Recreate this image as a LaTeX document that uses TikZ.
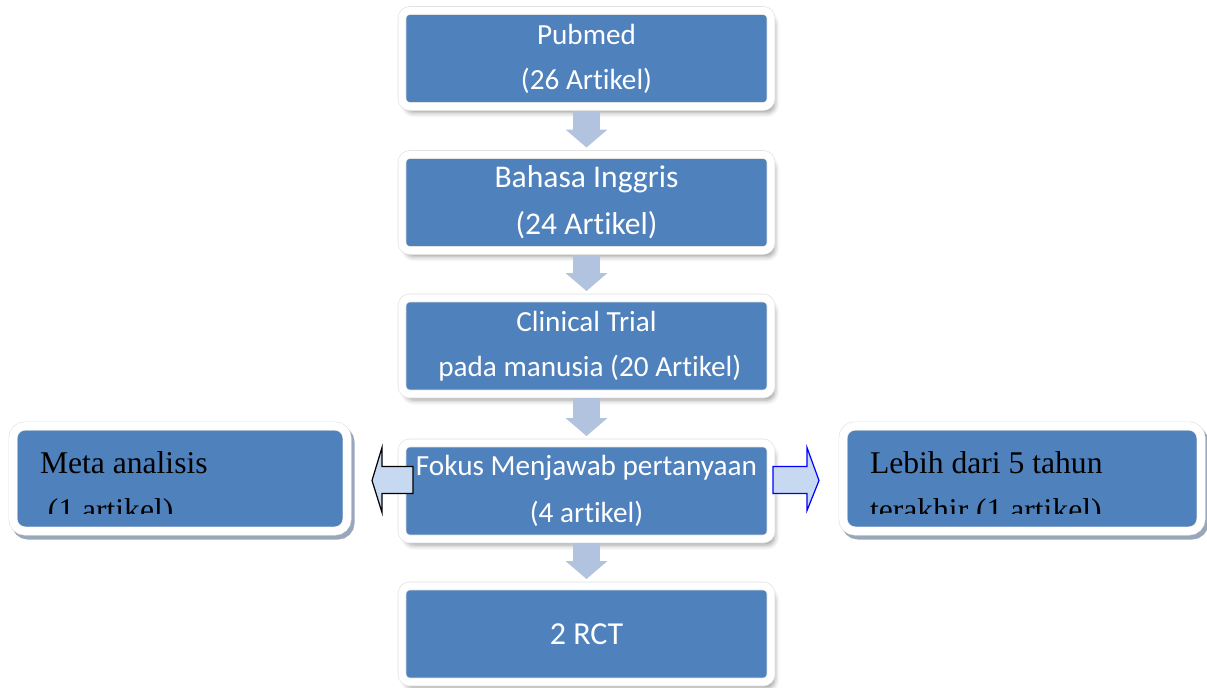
\documentclass[tikz,border=0pt]{standalone}
\usepackage{fontspec}
\setmainfont{Liberation Serif}
\newfontfamily\calibri[Ligatures=NoCommon]{Carlito}
\usetikzlibrary{arrows.meta, calc, shadows, shadows.blur}

\definecolor{boxblue}{HTML}{4F81BD}
\definecolor{arrowgray}{HTML}{B1C3DE}
\definecolor{arrowfill}{HTML}{C6D9F1}
\definecolor{sideshade}{HTML}{8E9DB3}

\begin{document}
\begin{tikzpicture}[
  x=0.5pt, y=-0.5pt,
  every node/.style={inner sep=0pt, outer sep=0pt},
  flowbox/.style={rounded corners=4pt, fill=boxblue, draw=gray!25, line width=0.3pt,
    double=white, double distance=3.7pt, minimum width=184.5pt, minimum height=48pt,
    align=center, text=white, font=\calibri\fontsize{14.6}{22.5}\selectfont,
    blur shadow={shadow xshift=1.8pt, shadow yshift=-3pt, shadow blur radius=2.5pt, shadow opacity=40}},
  sidebox/.style={rounded corners=6pt, fill=boxblue, draw=gray!25, line width=0.3pt,
    double=white, double distance=3.9pt, minimum height=52.5pt,
    drop shadow={draw=sideshade, fill=sideshade, line width=4.5pt, shadow xshift=1.5pt, shadow yshift=-2pt, opacity=0.9}},
  sidetext/.style={anchor=base west, font=\fontsize{15.8}{20}\selectfont, text=black},
  downarr/.style={draw=arrowgray, line width=13.5pt, -{Triangle[length=9pt, width=20.5pt]},
    shorten <=2pt, shorten >=3.5pt}
]
  \useasboundingbox (0,0) rectangle (1207,687);

  % main column
  \node[flowbox] (pub) at (586.5,58.5) {Pubmed\\(26 Artikel)};
  \node[flowbox, font=\calibri\fontsize{15.8}{23.5}\selectfont] (bah) at (586.5,202.5) {Bahasa Inggris\\(24 Artikel)};
  \node[flowbox] (clin) at (586.5,346) {Clinical Trial\\\ pada manusia (20 Artikel)};
  \node[flowbox, font=\calibri\fontsize{14.6}{23.5}\selectfont] (fokus) at (586.5,491) {Fokus Menjawab pertanyaan\\(4 artikel)};
  \node[flowbox, font=\calibri\fontsize{16}{20}\selectfont] (rct) at (586.5,634) {2 RCT};

  \draw[downarr] (pub) -- (bah);
  \draw[downarr] (bah) -- (clin);
  \draw[downarr] (clin) -- (fokus);
  \draw[downarr] (fokus) -- (rct);

  % side boxes
  \node[sidebox, minimum width=167pt] (meta) at (180,478.5) {};
  \node[sidebox, minimum width=179pt] (lebih) at (1022,478.5) {};

  \begin{scope}
    \clip (meta.north west) rectangle ($(meta.east)+(0,34.5)$);
    \node[sidetext] (metaA) at (40,473) {Meta analisis};
    \node[sidetext] (metaB) at (40,520) {\ (1 artikel)};
  \end{scope}
  \begin{scope}
    \clip (lebih.north west) rectangle ($(lebih.east)+(0,34.5)$);
    \node[sidetext] (lebihA) at (870,473) {Lebih dari 5 tahun};
    \node[sidetext] (lebihB) at (870,520) {terakhir (1 artikel)};
  \end{scope}

  % side arrows
  \coordinate (la) at ($(fokus.west)+(0,-10.5)$);
  \coordinate (ra) at ($(fokus.east)+(0,-10.5)$);
  \draw[fill=arrowfill, line width=0.6pt, line join=miter]
    ($(la)+(11,-14)$) -- ($(la)+(-20,-14)$) -- ($(la)+(-20,-33)$) -- ($(la)+(-30,0)$)
    -- ($(la)+(-20,32)$) -- ($(la)+(-20,13)$) -- ($(la)+(11,13)$) -- cycle;
  \draw[fill=arrowfill, draw=blue, line width=0.6pt, line join=miter]
    ($(ra)+(2,-14)$) -- ($(ra)+(36,-14)$) -- ($(ra)+(36,-33)$) -- ($(ra)+(48,0)$)
    -- ($(ra)+(36,30)$) -- ($(ra)+(36,13)$) -- ($(ra)+(2,13)$) -- cycle;
\end{tikzpicture}
\end{document}
